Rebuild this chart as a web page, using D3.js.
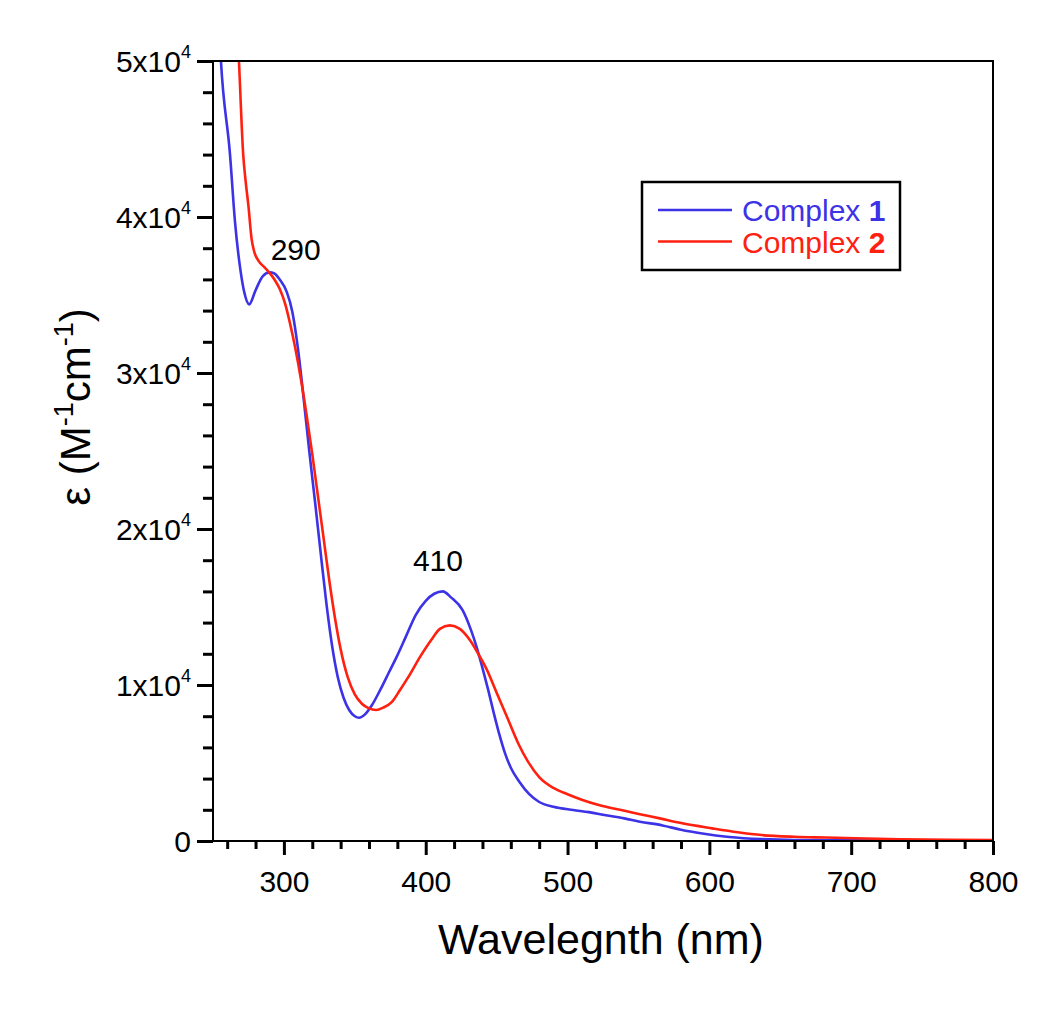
<!DOCTYPE html>
<html>
<head>
<meta charset="utf-8">
<script src="https://cdn.jsdelivr.net/npm/d3@7"></script>
<style>
  html, body { margin: 0; padding: 0; background: #fff; }
  text { font-family: Arial, "Liberation Sans", sans-serif; fill: #000; }
</style>
</head>
<body>
<svg id="chart" width="1050" height="1010"></svg>
<script>
// ---- Data ----
const wavelength1 = [250, 255.6, 262, 265.5, 269.5, 272, 275.5, 280, 285, 290, 293, 297, 302, 306, 310, 314, 318, 322, 326, 330, 334, 338, 342, 346, 350, 353, 357, 362, 368, 374, 380, 386, 393, 400, 406, 412, 418, 426, 432, 436, 440, 444, 448, 452, 456, 460, 466, 473, 480, 490, 504, 515, 527, 540, 551, 567, 580, 595, 614, 637, 660, 700, 750, 800];
const epsilon1 = [62000, 50000, 44000, 39700, 36500, 35200, 34400, 35300, 36200, 36450, 36400, 36000, 35200, 33900, 31500, 28300, 24900, 21700, 18400, 15200, 12500, 10500, 9200, 8400, 8000, 7900, 8100, 8700, 9700, 10800, 11900, 13100, 14500, 15400, 15850, 16000, 15600, 14800, 13500, 12400, 11100, 9700, 8200, 6800, 5600, 4700, 3800, 3000, 2500, 2200, 1990, 1850, 1650, 1450, 1240, 1000, 720, 480, 260, 120, 60, 40, 30, 20];

const wavelength2 = [262, 268.3, 271.3, 273, 275, 277.2, 279, 282, 286, 290, 294, 297, 301, 304, 308, 312, 316, 320, 324, 328, 332, 336, 340, 345, 350, 355, 360, 365, 370, 376, 382, 388, 396, 404, 410, 417, 424, 431, 437, 443, 450, 458, 465, 472, 480, 490, 500, 510, 522, 537, 551, 565, 580, 602, 620, 637, 660, 682, 710, 734, 770, 800];
const epsilon2 = [62000, 50000, 44000, 42300, 40700, 38600, 37800, 37200, 36800, 36400, 35900, 35400, 34400, 33300, 31600, 29600, 27300, 24800, 22100, 19400, 16700, 14300, 12300, 10500, 9400, 8800, 8500, 8400, 8550, 8900, 9700, 10550, 11800, 12900, 13600, 13820, 13600, 12900, 12000, 11000, 9500, 7800, 6300, 5100, 4100, 3400, 3000, 2650, 2310, 2000, 1720, 1450, 1150, 810, 560, 380, 270, 220, 160, 110, 80, 60];

const seriesNames = ["Complex ", "Complex "];
const seriesNumbers = ["1", "2"];
const seriesColors = ["#3c32e6", "#ff2010"];

const xTicksMajor = [300, 400, 500, 600, 700, 800];
const yTicksMajor = [0, 10000, 20000, 30000, 40000, 50000];
const yTickMantissa = ["0", "1", "2", "3", "4", "5"];

const annotations = [
  { x: 308.3, y: 37250, label: "290" },
  { x: 408.6, y: 17300, label: "410" }
];

// ---- Layout ----
const svg = d3.select("#chart");
const margin = { left: 213, top: 61, right: 57, bottom: 169 };
const W = 1050 - margin.left - margin.right;   // 780
const H = 1010 - margin.top - margin.bottom;   // 780

const x = d3.scaleLinear().domain([250, 800]).range([0, W]);
const y = d3.scaleLinear().domain([0, 50000]).range([H, 0]);

const g = svg.append("g").attr("transform", `translate(${margin.left},${margin.top})`);

g.append("defs").append("clipPath").attr("id", "clip")
  .append("rect").attr("x", 0).attr("y", 0).attr("width", W).attr("height", H);

// ---- Lines ----
const series = [
  wavelength1.map((w, i) => [w, epsilon1[i]]),
  wavelength2.map((w, i) => [w, epsilon2[i]])
];
const line = d3.line().x(d => x(d[0])).y(d => y(d[1])).curve(d3.curveMonotoneX);

series.forEach((s, i) => {
  g.append("path")
    .attr("clip-path", "url(#clip)")
    .attr("d", line(s))
    .attr("fill", "none")
    .attr("stroke", seriesColors[i])
    .attr("stroke-width", 2.6)
    .attr("stroke-linejoin", "round");
});

// ---- Frame ----
g.append("rect").attr("x", 0).attr("y", 0).attr("width", W).attr("height", H)
  .attr("fill", "none").attr("stroke", "#000").attr("stroke-width", 2);

// ---- X axis ----
const xMinor = d3.range(260, 800, 20).filter(v => !xTicksMajor.includes(v));
const xAxisMajor = d3.axisBottom(x).tickValues(xTicksMajor).tickSize(14).tickPadding(16).tickFormat(d3.format("d"));
const xAxisMinor = d3.axisBottom(x).tickValues(xMinor).tickSize(8).tickFormat("");
const gxMinor = g.append("g").attr("transform", `translate(0,${H})`).call(xAxisMinor);
const gx = g.append("g").attr("transform", `translate(0,${H})`).call(xAxisMajor);
[gx, gxMinor].forEach(a => {
  a.select(".domain").remove();
  a.selectAll("line").attr("stroke", "#000").attr("stroke-width", 3);
});
gx.selectAll("text").attr("font-size", 30).attr("font-family", "Arial, 'Liberation Sans', sans-serif").attr("fill", "#000");

// ---- Y axis ----
const yMinor = d3.range(2000, 50000, 2000).filter(v => v % 10000 !== 0);
const yAxisMajor = d3.axisLeft(y).tickValues(yTicksMajor).tickSize(16).tickFormat("");
const yAxisMinor = d3.axisLeft(y).tickValues(yMinor).tickSize(10).tickFormat("");
const gyMinor = g.append("g").call(yAxisMinor);
const gy = g.append("g").call(yAxisMajor);
[gy, gyMinor].forEach(a => {
  a.select(".domain").remove();
  a.selectAll("line").attr("stroke", "#000").attr("stroke-width", 3);
});
gy.selectAll(".tick").each(function(d, i) {
  const t = d3.select(this).append("text")
    .attr("x", -22).attr("dy", "0.36em")
    .attr("text-anchor", "end")
    .attr("font-size", 30);
  if (d === 0) {
    t.text("0");
  } else {
    t.append("tspan").text(yTickMantissa[i] + "x10");
    t.append("tspan").attr("font-size", 18).attr("dy", -14).text("4");
  }
});

// ---- Axis titles ----
svg.append("text")
  .attr("x", margin.left + W / 2 - 2).attr("y", 954)
  .attr("text-anchor", "middle")
  .attr("font-size", 43)
  .text("Wavelegnth (nm)");

const yt = svg.append("text")
  .attr("transform", `translate(90,407) rotate(-90)`)
  .attr("text-anchor", "middle")
  .attr("font-size", 42);
yt.append("tspan").text("ε (M");
yt.append("tspan").attr("font-size", 27).attr("dy", -17).text("-1");
yt.append("tspan").attr("dy", 17).text("cm");
yt.append("tspan").attr("font-size", 27).attr("dy", -17).text("-1");
yt.append("tspan").attr("dy", 17).text(")");

// ---- Annotations ----
annotations.forEach(a => {
  g.append("text")
    .attr("x", x(a.x))
    .attr("y", y(a.y))
    .attr("text-anchor", "middle")
    .attr("font-size", 30)
    .text(a.label);
});

// ---- Legend ----
const lg = svg.append("g").attr("transform", "translate(642,182)");
lg.append("rect").attr("x", 0).attr("y", 0).attr("width", 258).attr("height", 88)
  .attr("fill", "#fff").attr("stroke", "#000").attr("stroke-width", 2.5);
seriesNames.forEach((name, i) => {
  const yy = 28 + i * 31.5;
  lg.append("line").attr("x1", 16).attr("x2", 90).attr("y1", yy).attr("y2", yy)
    .attr("stroke", seriesColors[i]).attr("stroke-width", 2.6);
  const t = lg.append("text").attr("x", 100).attr("y", yy + 11).attr("font-size", 30)
    .style("fill", seriesColors[i]);
  t.append("tspan").text(name).style("fill", seriesColors[i]);
  t.append("tspan").attr("font-weight", "bold").text(seriesNumbers[i]).style("fill", seriesColors[i]);
});
</script>
</body>
</html>
